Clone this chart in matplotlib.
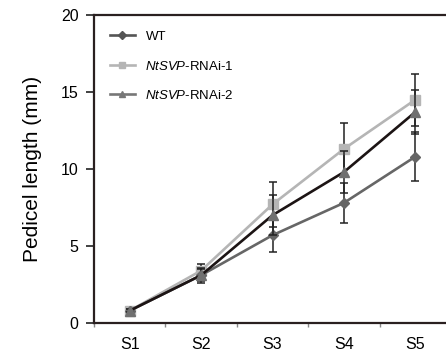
import matplotlib
matplotlib.use("Agg")
import matplotlib.pyplot as plt
from matplotlib.lines import Line2D

plt.rcParams['font.family'] = ['Liberation Sans', 'DejaVu Sans']
plt.rcParams['mathtext.fontset'] = 'custom'
plt.rcParams['mathtext.it'] = 'Liberation Sans:italic'
plt.rcParams['mathtext.rm'] = 'Liberation Sans'

stages = ['S1', 'S2', 'S3', 'S4', 'S5']

wt = [0.8, 3.1, 5.7, 7.8, 10.8]
wt_err = [0.1, 0.4, 1.1, 1.3, 1.6]

rnai1 = [0.8, 3.4, 7.7, 11.3, 14.5]
rnai1_err = [0.1, 0.4, 1.45, 1.7, 1.7]

rnai2 = [0.8, 3.1, 7.0, 9.8, 13.7]
rnai2_err = [0.1, 0.5, 1.3, 1.35, 1.4]

labels = ['WT', r'$\it{NtSVP}$-RNAi-1', r'$\it{NtSVP}$-RNAi-2']

x = list(range(len(stages)))

fig = plt.figure(figsize=(4.46, 3.6), dpi=100)
ax = fig.add_axes([94 / 446, 1 - 323 / 360, 357 / 446, 308 / 360])

lw = 1.9
ax.errorbar(x, wt, yerr=wt_err, color='#666666', lw=lw, marker='D', ms=5,
            ecolor='#222222', elinewidth=1.1, capsize=3, capthick=1.1, zorder=3)
ax.errorbar(x, rnai1, yerr=rnai1_err, color='#b5b5b5', lw=lw, marker='s', ms=7,
            ecolor='#222222', elinewidth=1.1, capsize=3, capthick=1.1, zorder=2)
ax.errorbar(x, rnai2, yerr=rnai2_err, color='#1c1414', lw=lw, marker='^', ms=7,
            mfc='#707070', mec='#707070', ecolor='#222222', elinewidth=1.1,
            capsize=3, capthick=1.1, zorder=4)

handles = [
    Line2D([], [], color='#555555', lw=lw, marker='D', ms=4),
    Line2D([], [], color='#b5b5b5', lw=lw, marker='s', ms=5),
    Line2D([], [], color='#777777', lw=lw, marker='^', ms=5),
]
ax.legend(handles, labels, loc='upper left', frameon=False, fontsize=9.5,
          handlelength=1.9, handletextpad=0.8, labelspacing=1.25,
          bbox_to_anchor=(0.0, 1.0), borderaxespad=0.8)

ax.set_xlim(-0.5, 4.5)
ax.set_ylim(0, 20)
ax.set_yticks([0, 5, 10, 15, 20])
ax.set_xticks(x)
ax.set_xticklabels(stages, fontsize=11.5)
ax.set_xticks([i + 0.5 for i in range(-1, 5)], minor=True)
ax.tick_params(axis='x', which='major', length=0, pad=10)
ax.tick_params(axis='x', which='minor', length=3, width=1, color='#888888')
ax.tick_params(axis='y', labelsize=11.5, length=6, width=1.3, color='#333333',
               pad=5)
ax.set_ylabel('Pedicel length (mm)', fontsize=15, labelpad=14)

for side in ['left', 'bottom', 'top']:
    ax.spines[side].set_linewidth(1.6)
    ax.spines[side].set_color('#2a2020')
ax.spines['right'].set_visible(False)

fig.savefig('out.png', dpi=100)
